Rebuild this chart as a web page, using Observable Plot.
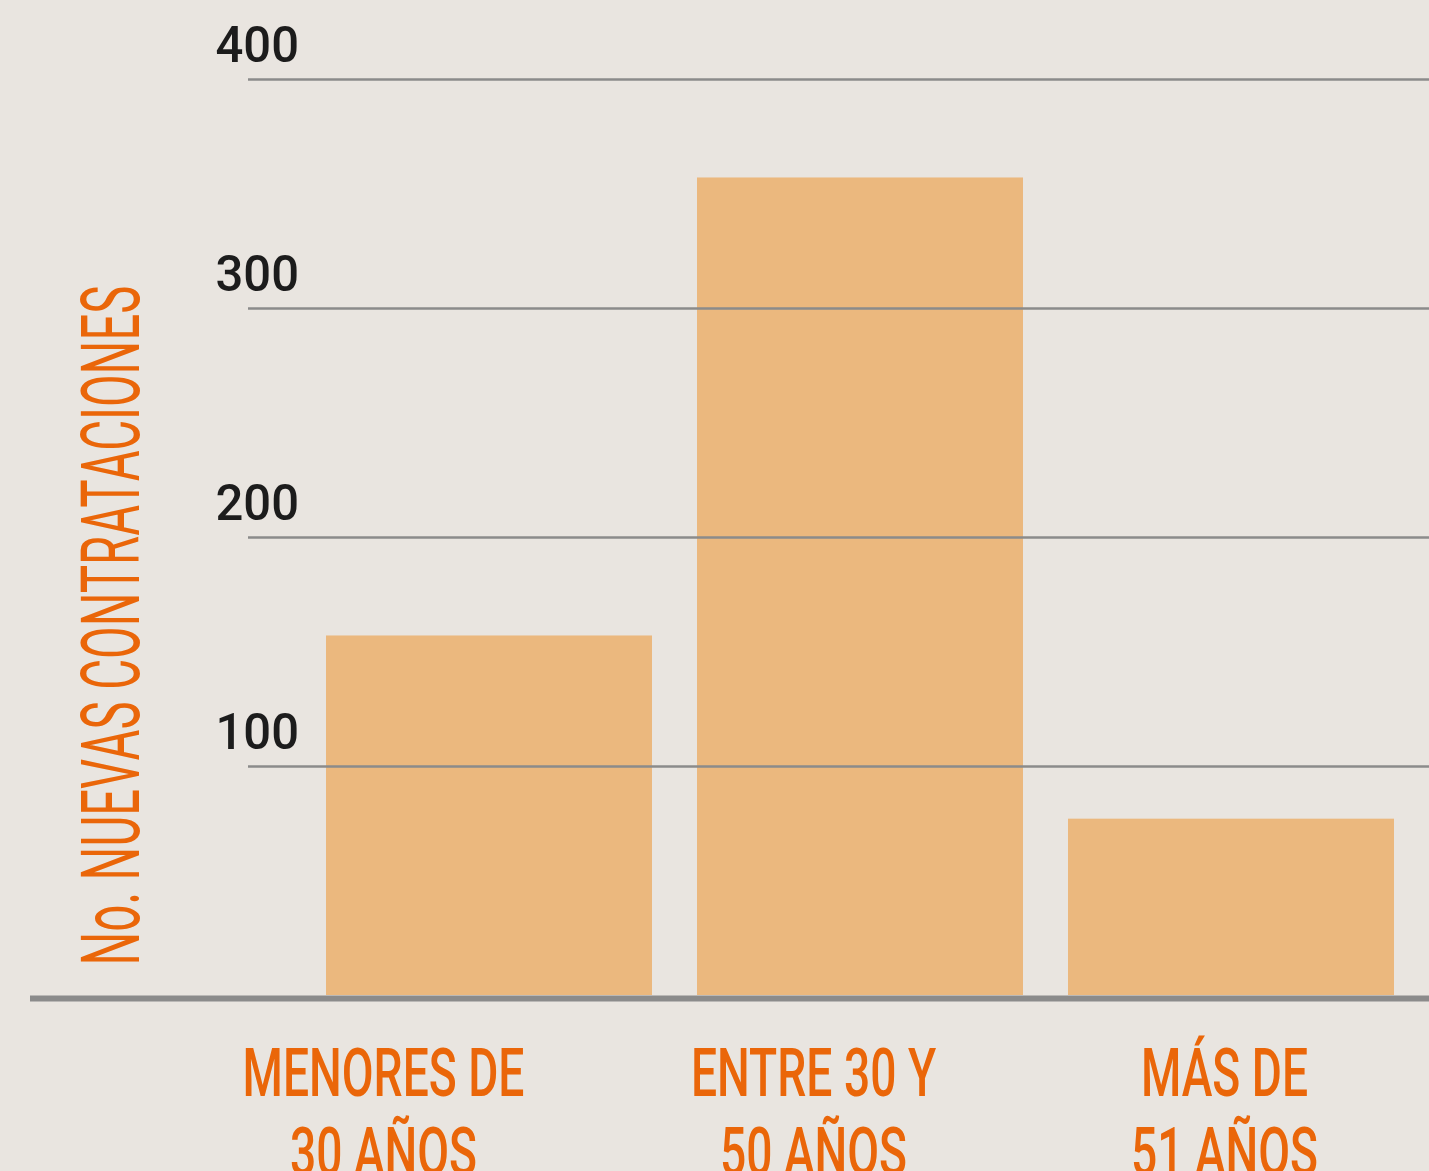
<!DOCTYPE html>
<html>
<head>
<meta charset="utf-8">
<script src="https://cdn.jsdelivr.net/npm/d3@7"></script>
<script src="https://cdn.jsdelivr.net/npm/@observablehq/plot@0.6"></script>
<style>
  html, body { margin: 0; padding: 0; background: #e9e5e0; }
  #chart svg { display: block; background: transparent; }
</style>
</head>
<body>
<div id="chart"></div>
<script>
const categories = ["MENORES DE\n30 AÑOS", "ENTRE 30 Y\n50 AÑOS", "MÁS DE\n51 AÑOS"];
const values = [157, 357, 77];
const yTicks = [100, 200, 300, 400];
const yTitle = "No. NUEVAS CONTRATACIONES";

const data = categories.map((c, i) => ({category: c, value: values[i]}));

const orange = "#ea6609";
const labelDx = [-106, -47, -7];

const plot = Plot.plot({
  width: 1429,
  height: 1171,
  marginTop: 79,
  marginBottom: 176,
  marginLeft: 248,
  marginRight: 0,
  style: {background: "transparent"},
  x: {domain: categories, range: [325, 1396], paddingInner: 0.12, paddingOuter: 0, axis: null},
  y: {domain: [0, 400], axis: null},
  marks: [
    Plot.barY(data, {x: "category", y: "value", fill: "#ebb87e"}),
    Plot.ruleY(yTicks, {stroke: "#8b8b8b", strokeWidth: 2.5}),
    Plot.ruleY([0], {stroke: "#8b8b8b", strokeWidth: 6, dy: 3, insetLeft: -218}),
    Plot.text(yTicks, {
      y: d => d, text: d => String(d), frameAnchor: "left", textAnchor: "start",
      dx: -33, dy: -34, fontSize: 50, fontWeight: 500, fill: "#1c1c1c",
      fontFamily: "Roboto", className: "ytick"
    }),
    Plot.text([yTitle], {
      text: d => d, frameAnchor: "left", rotate: -90, textAnchor: "middle",
      dx: -136, dy: 88, fontSize: 82, fill: orange, fontFamily: "Roboto",
      className: "ytitle"
    }),
    ...categories.map((c, i) => Plot.text([c], {
      x: d => d, text: d => d, frameAnchor: "bottom", lineAnchor: "top",
      dy: 45, dx: labelDx[i], fontSize: 66, fontWeight: 500, lineHeight: 1.19, fill: orange,
      fontFamily: "Roboto", className: "xlabel"
    }))
  ]
});

document.getElementById("chart").appendChild(plot);

// condense text horizontally (the reference uses a condensed typeface)
function condense(selector, factor) {
  d3.select(plot).selectAll(selector + " text").each(function() {
    const t = this.getAttribute("transform") || "";
    this.setAttribute("transform", t + ` scale(${factor},1)`);
  });
}
condense(".ytick", 0.98);
condense(".xlabel", 0.70);
// title: fit to measured length
d3.select(plot).selectAll(".ytitle text").each(function() {
  const w = this.getComputedTextLength();
  const f = 680 / w;
  const t = this.getAttribute("transform") || "";
  this.setAttribute("transform", t + ` scale(${f},1)`);
});
</script>
</body>
</html>
